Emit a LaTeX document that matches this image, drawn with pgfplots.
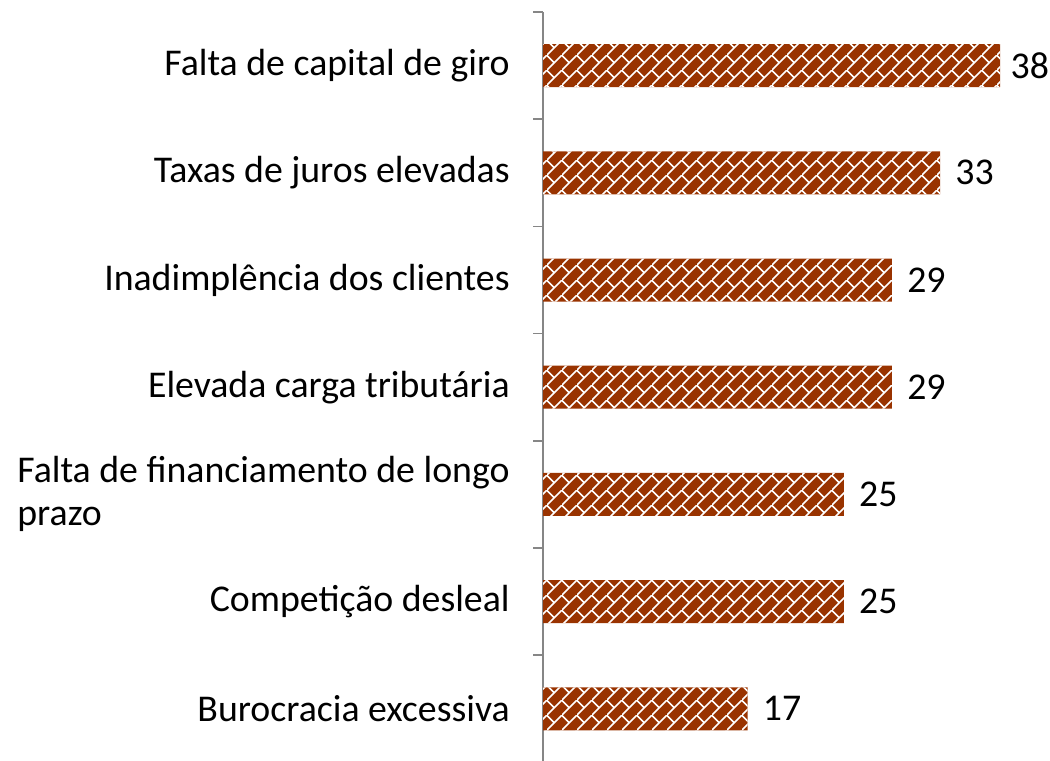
\documentclass[border=0pt]{standalone}
\usepackage{fontspec}
\setmainfont{Carlito}
\usepackage{pgfplots}
\pgfplotsset{compat=1.18}
\usepackage{pgfplotstable}
\usetikzlibrary{patterns}

\definecolor{brick}{RGB}{153,51,0}
\definecolor{axisgray}{RGB}{134,134,134}

% diagonal brick tile: one full "/" course line and one "\" joint per tile
\pgfdeclarepatternformonly{diagbrick}{\pgfqpoint{0pt}{0pt}}{\pgfqpoint{7.6pt}{7.6pt}}{\pgfqpoint{7.6pt}{7.6pt}}{%
  \pgfsetlinewidth{0.8pt}%
  \pgfpathmoveto{\pgfqpoint{-1pt}{-1pt}}\pgfpathlineto{\pgfqpoint{8.6pt}{8.6pt}}%
  \pgfpathmoveto{\pgfqpoint{3.8pt}{3.8pt}}\pgfpathlineto{\pgfqpoint{-0.5pt}{8.1pt}}%
  \pgfusepath{stroke}%
}

\pgfplotstableread{
pos val dx
1 38 5
2 33 7.5
3 29 7.5
4 29 7.5
5 25 7.5
6 25 7.5
7 17 7.5
}\datatable

\begin{document}
\begin{tikzpicture}
\begin{axis}[
  scale only axis,
  x=6.015pt, y=53.6pt,
  xmin=0, xmax=42.14,
  ymin=0.5, ymax=7.5,
  y dir=reverse,
  axis x line=none,
  axis y line*=left,
  y axis line style={axisgray, line width=0.75pt, -},
  xtick=\empty,
  ytick={1,...,7},
  yticklabels={
    Falta de capital de giro,
    Taxas de juros elevadas,
    Inadimplência dos clientes,
    Elevada carga tributária,
    {Falta de financiamento de longo\\prazo},
    Competição desleal,
    Burocracia excessiva},
  major tick length=0pt,
  minor ytick={0.5,1.5,...,7.5},
  minor tick length=5pt,
  tick align=outside,
  minor tick style={axisgray, line width=0.75pt},
  yticklabel style={align=left, anchor=east, inner sep=0pt, xshift=-16.5pt,
    font=\fontsize{18.9}{21.5}\selectfont, text=black},
  xbar, bar width=21.5pt,
  nodes near coords,
  visualization depends on={\thisrow{dx} \as \dx},
  nodes near coords style={anchor=west, inner sep=0pt, xshift=\dx pt,
    font=\fontsize{18.9}{22}\selectfont, text=black},
  /pgf/number format/assume math mode=true,
  clip=false,
]
\addplot[fill=brick, draw=none, postaction={pattern=diagbrick, pattern color=white}]
  table[x=val, y=pos] {\datatable};
\coordinate (bbll) at (axis cs:-45.14,7.478);
\coordinate (bbur) at (axis cs:42.14,0.388);
\end{axis}
\pgfresetboundingbox
\path[use as bounding box] (bbll) rectangle (bbur);
\end{tikzpicture}
\end{document}
